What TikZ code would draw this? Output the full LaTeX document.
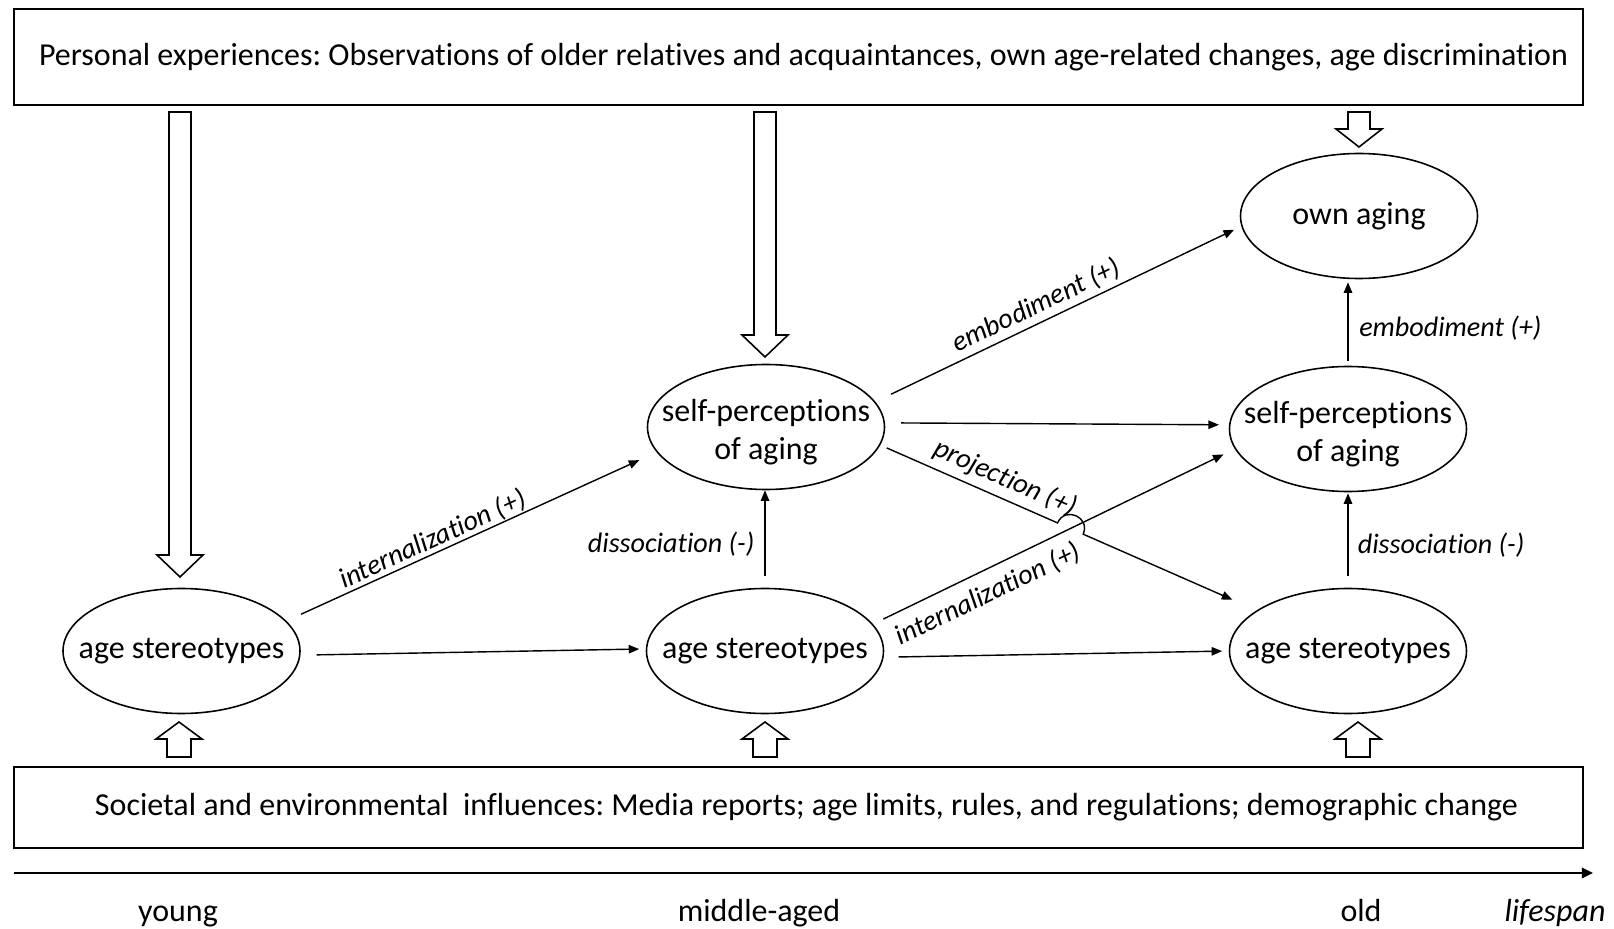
\documentclass[tikz,border=0pt]{standalone}
\usepackage{fontspec}
\setmainfont{Carlito}[Ligatures=NoCommon]
\usetikzlibrary{shapes.geometric,arrows.meta,calc,intersections}
\frenchspacing

% zero width text, so that the ovals keep their own size
\newcommand{\zw}[1]{\makebox[0pt]{#1}}
% hollow block arrows: x, start y, tip y, head length
\newcommand{\downblock}[4]{\draw[block] (#1-11,#2) -- (#1+11,#2) -- (#1+11,#3-#4) -- (#1+23,#3-#4) -- (#1,#3) -- (#1-23,#3-#4) -- (#1-11,#3-#4) -- cycle;}
\newcommand{\upblock}[3]{\draw[block] (#1-12,#2) -- (#1+12,#2) -- (#1+12,#3+17) -- (#1+23,#3+17) -- (#1,#3) -- (#1-23,#3+17) -- (#1-12,#3+17) -- cycle;}

\begin{document}
\begin{tikzpicture}[x=0.1mm,y=-0.1mm,
  font=\fontsize{9.1}{10.8}\selectfont,
  box/.style={draw,line width=0.6pt,minimum width=156.9mm,inner sep=0pt},
  oval/.style={ellipse,draw,line width=0.45pt,inner sep=0pt,minimum width=23.7mm,minimum height=12.5mm,align=center},
  conn/.style={line width=0.4pt,-{Triangle[length=3pt,width=2.4pt]}},
  lab/.style={font=\fontsize{8}{9.6}\selectfont\itshape,inner sep=0pt},
  block/.style={line width=0.45pt,fill=white}]

\useasboundingbox (0,0) rectangle (1614,929);

\node[box,minimum height=9.6mm] (pers) at (798.5,57) {\hspace*{1mm}Personal experiences: Observations of older relatives and acquaintances, own age-related changes, age discrimination};
\node[box,minimum height=8.1mm] (soc) at (798.5,807.5) {\hspace*{1.6mm}Societal and environmental\ \ influences: Media reports; age limits, rules, and regulations; demographic change};

% ovals
\node[oval] (as1) at (181.5,651) {\zw{age stereotypes}};
\node[oval] (as2) at (765,651) {\zw{age stereotypes}};
\node[oval] (as3) at (1348,651) {\zw{age stereotypes}};
\node[oval] (sp2) at (766,427) {\zw{self-perceptions}\rule{0pt}{9.4pt}\\\zw{of aging}};
\node[oval] (sp3) at (1348,429) {\zw{self-perceptions}\rule{0pt}{9.4pt}\\\zw{of aging}};
\node[oval] (own) at (1359,216) {\zw{own aging}};

% block arrows
\downblock{180}{112}{577}{22}
\downblock{765}{112}{357}{22}
\downblock{1359}{112}{147}{18}
\upblock{179}{757}{722}
\upblock{765}{757}{722}
\upblock{1358}{757}{722}

% arrows between the ovals
\draw[conn,shorten <=1.6mm,shorten >=0.65mm] (as1.-2) -- (as2.179);
\draw[conn,shorten <=1.5mm,shorten >=0.65mm] (as2.-3) -- (as3.180);
\draw[conn,shorten <=1.6mm,shorten >=1mm] (sp2.2) -- (sp3.178);
\draw[conn,shorten <=1.6mm,shorten >=1.9mm] (as1.16) -- node[lab,pos=0.41,sloped,above=0.2pt]{internalization (+)} (sp2.193);
\draw[conn,shorten <=1.75mm,shorten >=0.8mm] (sp2.13) -- node[lab,pos=0.46,sloped,above=1.2pt]{embodiment (+)} (own.185);
\draw[conn,shorten <=1.15mm,shorten >=1.25mm,name path=int2] (as2.14) -- node[lab,pos=0.29,sloped,below=2.9pt]{internalization (+)} (sp3.190);

% projection, with a hop over the crossing
\path[name path=proj] (sp2.-9) -- (as3.156);
\path[name intersections={of=proj and int2,by=cross}];
\coordinate (j1) at ($(cross)!1.4mm!(sp2.-9)$);
\coordinate (j2) at ($(cross)!1.4mm!(as3.156)$);
\draw[conn,shorten <=0.7mm,shorten >=2.65mm] (sp2.-9) -- node[lab,pos=0.66,sloped,above=1.8pt]{projection (+)} (j1) .. controls ($(j1)!1.333!90:(cross)$) and ($(j2)!1.333!-90:(cross)$) .. (j2) -- (as3.156);

\draw[conn,shorten <=1.15mm] (as2.north) -- node[lab,pos=0.45,left=2.8pt]{dissociation (-)} (as2.north |- sp2.south);
\draw[conn,shorten <=1.2mm,shorten >=0.1mm] (as3.north) -- node[lab,pos=0.45,right=2.6pt]{dissociation (-)} (sp3.south);
\draw[conn,shorten <=0.5mm,shorten >=0.3mm] (sp3.north) -- node[lab,pos=0.44,right=3pt]{embodiment (+)} (sp3.north |- own.south);

% time axis
\coordinate (t0) at (14,873);
\coordinate (t1) at (1593,873);
\draw[line width=0.5pt,-{Triangle[length=3.2pt,width=3pt]}] (t0) -- (t1);
\node[anchor=base] (young) at (178,921) {young};
\node[anchor=base] (middle) at (759,921) {middle-aged};
\node[anchor=base] (old) at (1361,921) {old};
\node[anchor=base,font=\fontsize{9.1}{10.8}\selectfont\itshape] (span) at (1555,921) {lifespan};

\end{tikzpicture}
\end{document}
